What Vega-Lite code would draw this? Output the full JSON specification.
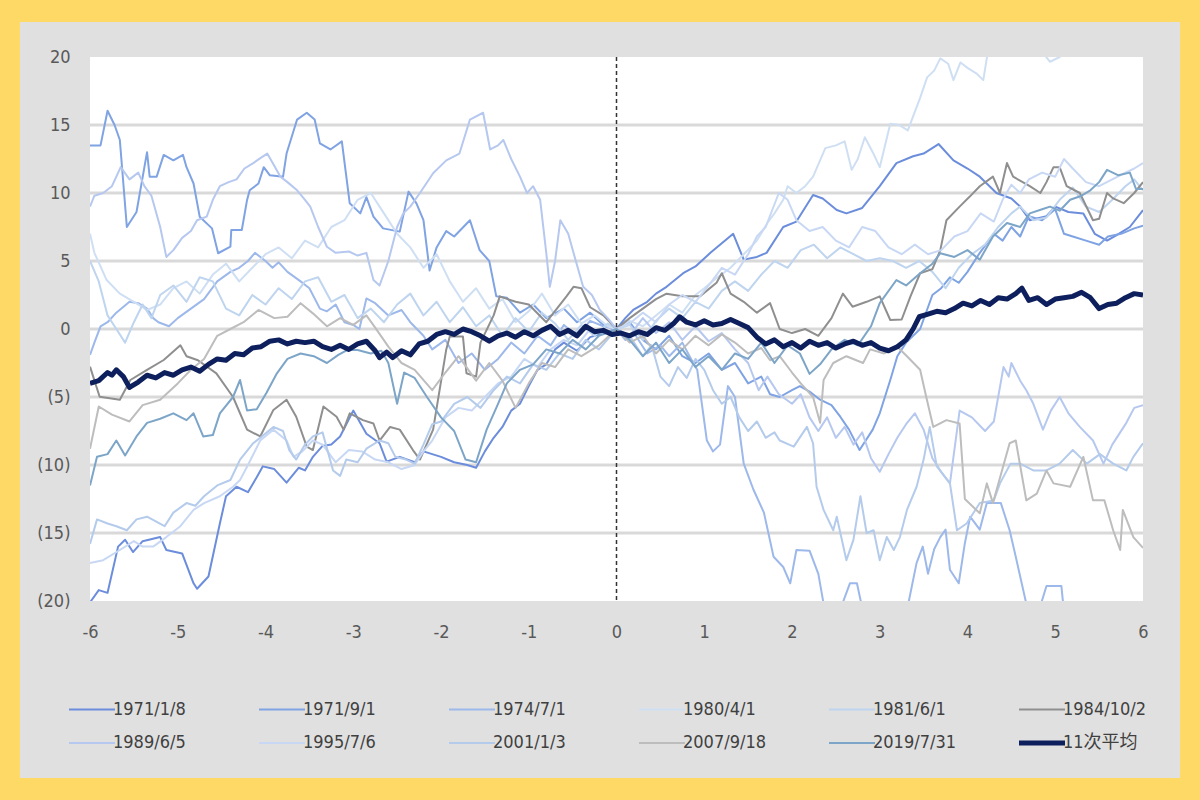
{
"$schema": "https://vega.github.io/schema/vega-lite/v6.json",
"width": 1053, "height": 544,
"autosize": {"type": "none"},
"padding": {"left": 90, "top": 57, "right": 57, "bottom": 199},
"background": "#FFD966",
"config": {"view": {"stroke": null}, "font": "'Liberation Sans Narrow', 'DejaVu Sans Condensed', 'Noto Sans CJK SC', sans-serif"},
"datasets": {
"series": [
{"s":"1971/1/8","x":-6,"y":-20.1},{"s":"1971/1/8","x":-5.9,"y":-19.2},{"s":"1971/1/8","x":-5.8,"y":-19.4},{"s":"1971/1/8","x":-5.68,"y":-16.0},{"s":"1971/1/8","x":-5.6,"y":-15.5},{"s":"1971/1/8","x":-5.51,"y":-16.4},{"s":"1971/1/8","x":-5.4,"y":-15.6},{"s":"1971/1/8","x":-5.2,"y":-15.3},{"s":"1971/1/8","x":-5.13,"y":-16.25},{"s":"1971/1/8","x":-4.95,"y":-16.5},{"s":"1971/1/8","x":-4.82,"y":-18.7},{"s":"1971/1/8","x":-4.78,"y":-19.1},{"s":"1971/1/8","x":-4.65,"y":-18.2},{"s":"1971/1/8","x":-4.52,"y":-14.3},{"s":"1971/1/8","x":-4.45,"y":-12.3},{"s":"1971/1/8","x":-4.33,"y":-11.6},{"s":"1971/1/8","x":-4.2,"y":-12.0},{"s":"1971/1/8","x":-4.1,"y":-10.9},{"s":"1971/1/8","x":-4.03,"y":-10.1},{"s":"1971/1/8","x":-3.9,"y":-10.3},{"s":"1971/1/8","x":-3.76,"y":-11.3},{"s":"1971/1/8","x":-3.62,"y":-10.2},{"s":"1971/1/8","x":-3.55,"y":-10.4},{"s":"1971/1/8","x":-3.46,"y":-9.4},{"s":"1971/1/8","x":-3.35,"y":-8.6},{"s":"1971/1/8","x":-3.25,"y":-8.5},{"s":"1971/1/8","x":-3.15,"y":-7.9},{"s":"1971/1/8","x":-3.0,"y":-6.0},{"s":"1971/1/8","x":-2.85,"y":-7.7},{"s":"1971/1/8","x":-2.7,"y":-8.4},{"s":"1971/1/8","x":-2.62,"y":-9.75},{"s":"1971/1/8","x":-2.47,"y":-9.4},{"s":"1971/1/8","x":-2.3,"y":-9.8},{"s":"1971/1/8","x":-2.2,"y":-9.0},{"s":"1971/1/8","x":-2.0,"y":-9.4},{"s":"1971/1/8","x":-1.85,"y":-9.8},{"s":"1971/1/8","x":-1.7,"y":-10.0},{"s":"1971/1/8","x":-1.6,"y":-10.2},{"s":"1971/1/8","x":-1.5,"y":-9.0},{"s":"1971/1/8","x":-1.4,"y":-8.0},{"s":"1971/1/8","x":-1.3,"y":-7.2},{"s":"1971/1/8","x":-1.2,"y":-6.0},{"s":"1971/1/8","x":-1.1,"y":-5.5},{"s":"1971/1/8","x":-1.0,"y":-4.2},{"s":"1971/1/8","x":-0.9,"y":-3.0},{"s":"1971/1/8","x":-0.8,"y":-2.6},{"s":"1971/1/8","x":-0.7,"y":-1.5},{"s":"1971/1/8","x":-0.6,"y":-1.0},{"s":"1971/1/8","x":-0.45,"y":-1.6},{"s":"1971/1/8","x":-0.3,"y":-0.6},{"s":"1971/1/8","x":-0.15,"y":-0.3},{"s":"1971/1/8","x":0,"y":0},{"s":"1971/1/8","x":0.1,"y":0.8},{"s":"1971/1/8","x":0.19,"y":1.4},{"s":"1971/1/8","x":0.35,"y":2.0},{"s":"1971/1/8","x":0.45,"y":2.6},{"s":"1971/1/8","x":0.57,"y":3.1},{"s":"1971/1/8","x":0.76,"y":4.1},{"s":"1971/1/8","x":0.9,"y":4.6},{"s":"1971/1/8","x":1.07,"y":5.6},{"s":"1971/1/8","x":1.2,"y":6.3},{"s":"1971/1/8","x":1.33,"y":7.0},{"s":"1971/1/8","x":1.45,"y":5.1},{"s":"1971/1/8","x":1.6,"y":5.3},{"s":"1971/1/8","x":1.71,"y":5.6},{"s":"1971/1/8","x":1.9,"y":7.5},{"s":"1971/1/8","x":2.05,"y":7.9},{"s":"1971/1/8","x":2.24,"y":9.85},{"s":"1971/1/8","x":2.35,"y":9.6},{"s":"1971/1/8","x":2.51,"y":8.75},{"s":"1971/1/8","x":2.62,"y":8.5},{"s":"1971/1/8","x":2.8,"y":8.9},{"s":"1971/1/8","x":3.0,"y":10.5},{"s":"1971/1/8","x":3.19,"y":12.2},{"s":"1971/1/8","x":3.38,"y":12.7},{"s":"1971/1/8","x":3.5,"y":12.9},{"s":"1971/1/8","x":3.67,"y":13.6},{"s":"1971/1/8","x":3.84,"y":12.4},{"s":"1971/1/8","x":4.0,"y":11.8},{"s":"1971/1/8","x":4.14,"y":11.2},{"s":"1971/1/8","x":4.33,"y":10.0},{"s":"1971/1/8","x":4.5,"y":9.6},{"s":"1971/1/8","x":4.6,"y":9.0},{"s":"1971/1/8","x":4.71,"y":8.0},{"s":"1971/1/8","x":4.9,"y":8.3},{"s":"1971/1/8","x":5.0,"y":9.0},{"s":"1971/1/8","x":5.15,"y":8.6},{"s":"1971/1/8","x":5.32,"y":8.5},{"s":"1971/1/8","x":5.45,"y":7.0},{"s":"1971/1/8","x":5.59,"y":6.5},{"s":"1971/1/8","x":5.7,"y":6.9},{"s":"1971/1/8","x":5.85,"y":7.5},{"s":"1971/1/8","x":6.0,"y":8.75},
{"s":"1971/9/1","x":-6,"y":13.5},{"s":"1971/9/1","x":-5.88,"y":13.5},{"s":"1971/9/1","x":-5.8,"y":16.05},{"s":"1971/9/1","x":-5.72,"y":15.0},{"s":"1971/9/1","x":-5.66,"y":13.9},{"s":"1971/9/1","x":-5.58,"y":7.5},{"s":"1971/9/1","x":-5.47,"y":8.6},{"s":"1971/9/1","x":-5.35,"y":13.0},{"s":"1971/9/1","x":-5.32,"y":11.2},{"s":"1971/9/1","x":-5.24,"y":11.2},{"s":"1971/9/1","x":-5.16,"y":12.8},{"s":"1971/9/1","x":-5.05,"y":12.4},{"s":"1971/9/1","x":-4.94,"y":12.8},{"s":"1971/9/1","x":-4.9,"y":11.9},{"s":"1971/9/1","x":-4.82,"y":10.7},{"s":"1971/9/1","x":-4.75,"y":8.26},{"s":"1971/9/1","x":-4.61,"y":7.4},{"s":"1971/9/1","x":-4.54,"y":5.57},{"s":"1971/9/1","x":-4.4,"y":6.05},{"s":"1971/9/1","x":-4.39,"y":7.28},{"s":"1971/9/1","x":-4.27,"y":7.28},{"s":"1971/9/1","x":-4.21,"y":9.49},{"s":"1971/9/1","x":-4.18,"y":10.2},{"s":"1971/9/1","x":-4.08,"y":10.7},{"s":"1971/9/1","x":-4.02,"y":11.9},{"s":"1971/9/1","x":-3.95,"y":11.3},{"s":"1971/9/1","x":-3.8,"y":11.2},{"s":"1971/9/1","x":-3.76,"y":12.9},{"s":"1971/9/1","x":-3.64,"y":15.4},{"s":"1971/9/1","x":-3.53,"y":15.9},{"s":"1971/9/1","x":-3.44,"y":15.4},{"s":"1971/9/1","x":-3.38,"y":13.65},{"s":"1971/9/1","x":-3.26,"y":13.2},{"s":"1971/9/1","x":-3.13,"y":13.8},{"s":"1971/9/1","x":-3.04,"y":9.24},{"s":"1971/9/1","x":-2.92,"y":8.5},{"s":"1971/9/1","x":-2.85,"y":9.7},{"s":"1971/9/1","x":-2.77,"y":8.26},{"s":"1971/9/1","x":-2.66,"y":7.4},{"s":"1971/9/1","x":-2.47,"y":7.16},{"s":"1971/9/1","x":-2.37,"y":10.1},{"s":"1971/9/1","x":-2.28,"y":9.24},{"s":"1971/9/1","x":-2.2,"y":8.0},{"s":"1971/9/1","x":-2.13,"y":4.3},{"s":"1971/9/1","x":-2.05,"y":6.0},{"s":"1971/9/1","x":-1.94,"y":7.2},{"s":"1971/9/1","x":-1.85,"y":6.8},{"s":"1971/9/1","x":-1.67,"y":8.0},{"s":"1971/9/1","x":-1.56,"y":5.8},{"s":"1971/9/1","x":-1.45,"y":5.0},{"s":"1971/9/1","x":-1.37,"y":2.4},{"s":"1971/9/1","x":-1.25,"y":2.3},{"s":"1971/9/1","x":-1.1,"y":1.2},{"s":"1971/9/1","x":-0.95,"y":1.8},{"s":"1971/9/1","x":-0.8,"y":0.8},{"s":"1971/9/1","x":-0.6,"y":1.5},{"s":"1971/9/1","x":-0.45,"y":0.5},{"s":"1971/9/1","x":-0.3,"y":1.2},{"s":"1971/9/1","x":-0.15,"y":0.3},{"s":"1971/9/1","x":0,"y":0},{"s":"1971/9/1","x":0.15,"y":0.5},{"s":"1971/9/1","x":0.3,"y":-0.8},{"s":"1971/9/1","x":0.45,"y":-1.5},{"s":"1971/9/1","x":0.6,"y":-0.5},{"s":"1971/9/1","x":0.75,"y":-2.0},{"s":"1971/9/1","x":0.9,"y":-2.5},{"s":"1971/9/1","x":1.05,"y":-1.8},{"s":"1971/9/1","x":1.2,"y":-3.0},{"s":"1971/9/1","x":1.35,"y":-2.5},{"s":"1971/9/1","x":1.5,"y":-4.0},{"s":"1971/9/1","x":1.65,"y":-3.5},{"s":"1971/9/1","x":1.75,"y":-4.8},{"s":"1971/9/1","x":1.86,"y":-5.0},{"s":"1971/9/1","x":2.0,"y":-4.5},{"s":"1971/9/1","x":2.09,"y":-4.2},{"s":"1971/9/1","x":2.2,"y":-4.6},{"s":"1971/9/1","x":2.32,"y":-5.2},{"s":"1971/9/1","x":2.45,"y":-5.6},{"s":"1971/9/1","x":2.55,"y":-6.45},{"s":"1971/9/1","x":2.65,"y":-7.4},{"s":"1971/9/1","x":2.77,"y":-8.9},{"s":"1971/9/1","x":2.92,"y":-7.4},{"s":"1971/9/1","x":3.0,"y":-6.2},{"s":"1971/9/1","x":3.12,"y":-3.75},{"s":"1971/9/1","x":3.2,"y":-2.0},{"s":"1971/9/1","x":3.3,"y":-1.0},{"s":"1971/9/1","x":3.46,"y":0.0},{"s":"1971/9/1","x":3.6,"y":2.5},{"s":"1971/9/1","x":3.7,"y":3.0},{"s":"1971/9/1","x":3.8,"y":3.8},{"s":"1971/9/1","x":3.9,"y":3.4},{"s":"1971/9/1","x":4.0,"y":4.2},{"s":"1971/9/1","x":4.14,"y":5.6},{"s":"1971/9/1","x":4.3,"y":7.0},{"s":"1971/9/1","x":4.4,"y":6.5},{"s":"1971/9/1","x":4.5,"y":7.5},{"s":"1971/9/1","x":4.6,"y":6.8},{"s":"1971/9/1","x":4.7,"y":8.3},{"s":"1971/9/1","x":4.85,"y":8.0},{"s":"1971/9/1","x":5.0,"y":8.8},{"s":"1971/9/1","x":5.1,"y":7.0},{"s":"1971/9/1","x":5.2,"y":6.8},{"s":"1971/9/1","x":5.35,"y":6.5},{"s":"1971/9/1","x":5.5,"y":6.2},{"s":"1971/9/1","x":5.6,"y":6.8},{"s":"1971/9/1","x":5.75,"y":7.0},{"s":"1971/9/1","x":5.9,"y":7.4},{"s":"1971/9/1","x":6.0,"y":7.6},
{"s":"1974/7/1","x":-6,"y":-1.9},{"s":"1974/7/1","x":-5.95,"y":-1.0},{"s":"1974/7/1","x":-5.88,"y":0.2},{"s":"1974/7/1","x":-5.8,"y":0.5},{"s":"1974/7/1","x":-5.7,"y":1.2},{"s":"1974/7/1","x":-5.55,"y":2.0},{"s":"1974/7/1","x":-5.45,"y":1.9},{"s":"1974/7/1","x":-5.35,"y":1.5},{"s":"1974/7/1","x":-5.28,"y":0.8},{"s":"1974/7/1","x":-5.22,"y":0.5},{"s":"1974/7/1","x":-5.1,"y":0.2},{"s":"1974/7/1","x":-5.0,"y":0.8},{"s":"1974/7/1","x":-4.85,"y":1.5},{"s":"1974/7/1","x":-4.7,"y":2.2},{"s":"1974/7/1","x":-4.55,"y":3.5},{"s":"1974/7/1","x":-4.4,"y":4.2},{"s":"1974/7/1","x":-4.3,"y":4.5},{"s":"1974/7/1","x":-4.2,"y":5.0},{"s":"1974/7/1","x":-4.12,"y":5.6},{"s":"1974/7/1","x":-4.0,"y":5.0},{"s":"1974/7/1","x":-3.92,"y":4.5},{"s":"1974/7/1","x":-3.85,"y":4.9},{"s":"1974/7/1","x":-3.75,"y":4.2},{"s":"1974/7/1","x":-3.6,"y":3.5},{"s":"1974/7/1","x":-3.5,"y":3.0},{"s":"1974/7/1","x":-3.38,"y":1.5},{"s":"1974/7/1","x":-3.3,"y":1.3},{"s":"1974/7/1","x":-3.2,"y":1.8},{"s":"1974/7/1","x":-3.1,"y":0.5},{"s":"1974/7/1","x":-3.0,"y":0.3},{"s":"1974/7/1","x":-2.93,"y":0.0},{"s":"1974/7/1","x":-2.85,"y":2.25},{"s":"1974/7/1","x":-2.75,"y":1.9},{"s":"1974/7/1","x":-2.6,"y":1.0},{"s":"1974/7/1","x":-2.45,"y":1.4},{"s":"1974/7/1","x":-2.35,"y":0.5},{"s":"1974/7/1","x":-2.2,"y":-0.5},{"s":"1974/7/1","x":-2.1,"y":-1.5},{"s":"1974/7/1","x":-1.95,"y":-0.8},{"s":"1974/7/1","x":-1.8,"y":-2.5},{"s":"1974/7/1","x":-1.65,"y":-1.8},{"s":"1974/7/1","x":-1.5,"y":-3.0},{"s":"1974/7/1","x":-1.35,"y":-2.2},{"s":"1974/7/1","x":-1.2,"y":-1.0},{"s":"1974/7/1","x":-1.05,"y":-1.8},{"s":"1974/7/1","x":-0.9,"y":-0.5},{"s":"1974/7/1","x":-0.75,"y":-1.2},{"s":"1974/7/1","x":-0.6,"y":0.3},{"s":"1974/7/1","x":-0.45,"y":-0.5},{"s":"1974/7/1","x":-0.3,"y":0.6},{"s":"1974/7/1","x":-0.15,"y":0.2},{"s":"1974/7/1","x":0,"y":0},{"s":"1974/7/1","x":0.1,"y":-0.8},{"s":"1974/7/1","x":0.2,"y":-0.3},{"s":"1974/7/1","x":0.35,"y":-1.8},{"s":"1974/7/1","x":0.5,"y":-1.2},{"s":"1974/7/1","x":0.6,"y":-2.0},{"s":"1974/7/1","x":0.75,"y":-1.0},{"s":"1974/7/1","x":0.85,"y":-2.2},{"s":"1974/7/1","x":0.92,"y":-3.0},{"s":"1974/7/1","x":1.03,"y":-8.2},{"s":"1974/7/1","x":1.1,"y":-9.0},{"s":"1974/7/1","x":1.18,"y":-8.5},{"s":"1974/7/1","x":1.27,"y":-4.2},{"s":"1974/7/1","x":1.35,"y":-5.0},{"s":"1974/7/1","x":1.45,"y":-9.9},{"s":"1974/7/1","x":1.56,"y":-11.8},{"s":"1974/7/1","x":1.68,"y":-13.5},{"s":"1974/7/1","x":1.79,"y":-16.75},{"s":"1974/7/1","x":1.9,"y":-17.5},{"s":"1974/7/1","x":1.98,"y":-18.7},{"s":"1974/7/1","x":2.05,"y":-16.25},{"s":"1974/7/1","x":2.2,"y":-16.3},{"s":"1974/7/1","x":2.3,"y":-18.0},{"s":"1974/7/1","x":2.36,"y":-20.2},{"s":"1974/7/1","x":2.5,"y":-21.5},{"s":"1974/7/1","x":2.66,"y":-18.7},{"s":"1974/7/1","x":2.74,"y":-18.7},{"s":"1974/7/1","x":2.8,"y":-20.5},{"s":"1974/7/1","x":3.0,"y":-22.0},{"s":"1974/7/1","x":3.3,"y":-21.0},{"s":"1974/7/1","x":3.42,"y":-17.2},{"s":"1974/7/1","x":3.49,"y":-16.0},{"s":"1974/7/1","x":3.55,"y":-18.0},{"s":"1974/7/1","x":3.62,"y":-16.2},{"s":"1974/7/1","x":3.69,"y":-15.3},{"s":"1974/7/1","x":3.75,"y":-14.75},{"s":"1974/7/1","x":3.8,"y":-17.7},{"s":"1974/7/1","x":3.9,"y":-18.7},{"s":"1974/7/1","x":3.97,"y":-15.75},{"s":"1974/7/1","x":4.03,"y":-13.8},{"s":"1974/7/1","x":4.14,"y":-14.75},{"s":"1974/7/1","x":4.22,"y":-12.8},{"s":"1974/7/1","x":4.38,"y":-12.8},{"s":"1974/7/1","x":4.48,"y":-14.8},{"s":"1974/7/1","x":4.55,"y":-16.75},{"s":"1974/7/1","x":4.67,"y":-20.2},{"s":"1974/7/1","x":4.8,"y":-21.0},{"s":"1974/7/1","x":4.9,"y":-18.9},{"s":"1974/7/1","x":5.07,"y":-18.9},{"s":"1974/7/1","x":5.09,"y":-20.2},{"s":"1974/7/1","x":5.3,"y":-22.0},{"s":"1974/7/1","x":5.6,"y":-23.0},{"s":"1974/7/1","x":6.0,"y":-22.5},
{"s":"1980/4/1","x":-6,"y":7.0},{"s":"1980/4/1","x":-5.95,"y":5.6},{"s":"1980/4/1","x":-5.81,"y":3.6},{"s":"1980/4/1","x":-5.66,"y":2.6},{"s":"1980/4/1","x":-5.5,"y":2.0},{"s":"1980/4/1","x":-5.35,"y":1.4},{"s":"1980/4/1","x":-5.2,"y":1.8},{"s":"1980/4/1","x":-5.05,"y":3.0},{"s":"1980/4/1","x":-4.9,"y":3.5},{"s":"1980/4/1","x":-4.75,"y":2.6},{"s":"1980/4/1","x":-4.6,"y":4.0},{"s":"1980/4/1","x":-4.45,"y":4.8},{"s":"1980/4/1","x":-4.3,"y":3.5},{"s":"1980/4/1","x":-4.15,"y":4.5},{"s":"1980/4/1","x":-4.0,"y":5.5},{"s":"1980/4/1","x":-3.85,"y":6.0},{"s":"1980/4/1","x":-3.7,"y":5.2},{"s":"1980/4/1","x":-3.55,"y":6.5},{"s":"1980/4/1","x":-3.4,"y":6.0},{"s":"1980/4/1","x":-3.25,"y":7.5},{"s":"1980/4/1","x":-3.1,"y":8.0},{"s":"1980/4/1","x":-2.95,"y":9.5},{"s":"1980/4/1","x":-2.8,"y":10.0},{"s":"1980/4/1","x":-2.65,"y":8.5},{"s":"1980/4/1","x":-2.5,"y":7.0},{"s":"1980/4/1","x":-2.35,"y":6.0},{"s":"1980/4/1","x":-2.2,"y":4.5},{"s":"1980/4/1","x":-2.05,"y":5.5},{"s":"1980/4/1","x":-1.9,"y":3.5},{"s":"1980/4/1","x":-1.75,"y":2.0},{"s":"1980/4/1","x":-1.6,"y":3.0},{"s":"1980/4/1","x":-1.45,"y":1.5},{"s":"1980/4/1","x":-1.3,"y":2.2},{"s":"1980/4/1","x":-1.15,"y":0.5},{"s":"1980/4/1","x":-1.0,"y":1.3},{"s":"1980/4/1","x":-0.85,"y":2.6},{"s":"1980/4/1","x":-0.7,"y":1.0},{"s":"1980/4/1","x":-0.55,"y":1.8},{"s":"1980/4/1","x":-0.4,"y":0.4},{"s":"1980/4/1","x":-0.25,"y":1.0},{"s":"1980/4/1","x":-0.1,"y":0.2},{"s":"1980/4/1","x":0,"y":0},{"s":"1980/4/1","x":0.15,"y":0.6},{"s":"1980/4/1","x":0.3,"y":0.2},{"s":"1980/4/1","x":0.45,"y":1.0},{"s":"1980/4/1","x":0.6,"y":1.8},{"s":"1980/4/1","x":0.75,"y":1.2},{"s":"1980/4/1","x":0.9,"y":2.5},{"s":"1980/4/1","x":1.0,"y":3.0},{"s":"1980/4/1","x":1.15,"y":3.8},{"s":"1980/4/1","x":1.3,"y":4.5},{"s":"1980/4/1","x":1.45,"y":5.5},{"s":"1980/4/1","x":1.6,"y":6.5},{"s":"1980/4/1","x":1.72,"y":7.8},{"s":"1980/4/1","x":1.8,"y":8.5},{"s":"1980/4/1","x":1.9,"y":9.5},{"s":"1980/4/1","x":1.95,"y":10.5},{"s":"1980/4/1","x":2.05,"y":10.0},{"s":"1980/4/1","x":2.15,"y":10.5},{"s":"1980/4/1","x":2.24,"y":11.2},{"s":"1980/4/1","x":2.38,"y":13.3},{"s":"1980/4/1","x":2.5,"y":13.5},{"s":"1980/4/1","x":2.6,"y":13.8},{"s":"1980/4/1","x":2.68,"y":11.7},{"s":"1980/4/1","x":2.75,"y":12.5},{"s":"1980/4/1","x":2.83,"y":14.1},{"s":"1980/4/1","x":2.92,"y":13.0},{"s":"1980/4/1","x":3.0,"y":11.9},{"s":"1980/4/1","x":3.12,"y":15.1},{"s":"1980/4/1","x":3.22,"y":15.0},{"s":"1980/4/1","x":3.32,"y":14.6},{"s":"1980/4/1","x":3.46,"y":17.0},{"s":"1980/4/1","x":3.54,"y":18.5},{"s":"1980/4/1","x":3.62,"y":19.0},{"s":"1980/4/1","x":3.69,"y":19.9},{"s":"1980/4/1","x":3.78,"y":19.5},{"s":"1980/4/1","x":3.84,"y":18.3},{"s":"1980/4/1","x":3.92,"y":19.6},{"s":"1980/4/1","x":4.0,"y":19.2},{"s":"1980/4/1","x":4.1,"y":18.8},{"s":"1980/4/1","x":4.18,"y":18.3},{"s":"1980/4/1","x":4.23,"y":20.3},{"s":"1980/4/1","x":4.35,"y":21.5},{"s":"1980/4/1","x":4.5,"y":22.0},{"s":"1980/4/1","x":4.65,"y":21.2},{"s":"1980/4/1","x":4.8,"y":20.8},{"s":"1980/4/1","x":4.94,"y":19.65},{"s":"1980/4/1","x":5.05,"y":20.0},{"s":"1980/4/1","x":5.15,"y":20.8},{"s":"1980/4/1","x":5.3,"y":21.5},{"s":"1980/4/1","x":5.5,"y":22.5},{"s":"1980/4/1","x":5.7,"y":22.0},{"s":"1980/4/1","x":6.0,"y":23.0},
{"s":"1981/6/1","x":-6,"y":5.0},{"s":"1981/6/1","x":-5.9,"y":3.5},{"s":"1981/6/1","x":-5.8,"y":1.0},{"s":"1981/6/1","x":-5.7,"y":0.0},{"s":"1981/6/1","x":-5.6,"y":-1.0},{"s":"1981/6/1","x":-5.5,"y":0.5},{"s":"1981/6/1","x":-5.4,"y":1.8},{"s":"1981/6/1","x":-5.3,"y":0.8},{"s":"1981/6/1","x":-5.2,"y":2.5},{"s":"1981/6/1","x":-5.05,"y":3.2},{"s":"1981/6/1","x":-4.9,"y":2.0},{"s":"1981/6/1","x":-4.75,"y":3.8},{"s":"1981/6/1","x":-4.6,"y":3.5},{"s":"1981/6/1","x":-4.45,"y":1.5},{"s":"1981/6/1","x":-4.3,"y":1.0},{"s":"1981/6/1","x":-4.15,"y":2.5},{"s":"1981/6/1","x":-4.0,"y":1.8},{"s":"1981/6/1","x":-3.85,"y":3.0},{"s":"1981/6/1","x":-3.7,"y":2.2},{"s":"1981/6/1","x":-3.55,"y":3.5},{"s":"1981/6/1","x":-3.4,"y":3.8},{"s":"1981/6/1","x":-3.25,"y":2.0},{"s":"1981/6/1","x":-3.1,"y":2.5},{"s":"1981/6/1","x":-2.95,"y":0.8},{"s":"1981/6/1","x":-2.8,"y":1.5},{"s":"1981/6/1","x":-2.65,"y":0.5},{"s":"1981/6/1","x":-2.5,"y":1.8},{"s":"1981/6/1","x":-2.35,"y":2.6},{"s":"1981/6/1","x":-2.2,"y":1.0},{"s":"1981/6/1","x":-2.05,"y":2.0},{"s":"1981/6/1","x":-1.9,"y":0.5},{"s":"1981/6/1","x":-1.75,"y":1.6},{"s":"1981/6/1","x":-1.6,"y":0.2},{"s":"1981/6/1","x":-1.45,"y":1.0},{"s":"1981/6/1","x":-1.3,"y":-0.5},{"s":"1981/6/1","x":-1.15,"y":0.8},{"s":"1981/6/1","x":-1.0,"y":-0.2},{"s":"1981/6/1","x":-0.85,"y":1.2},{"s":"1981/6/1","x":-0.7,"y":0.4},{"s":"1981/6/1","x":-0.55,"y":-0.8},{"s":"1981/6/1","x":-0.4,"y":0.3},{"s":"1981/6/1","x":-0.25,"y":-0.5},{"s":"1981/6/1","x":-0.1,"y":0.4},{"s":"1981/6/1","x":0,"y":0},{"s":"1981/6/1","x":0.15,"y":0.3},{"s":"1981/6/1","x":0.3,"y":-0.8},{"s":"1981/6/1","x":0.45,"y":0.6},{"s":"1981/6/1","x":0.6,"y":1.5},{"s":"1981/6/1","x":0.75,"y":0.8},{"s":"1981/6/1","x":0.9,"y":2.0},{"s":"1981/6/1","x":1.05,"y":1.5},{"s":"1981/6/1","x":1.2,"y":2.8},{"s":"1981/6/1","x":1.35,"y":3.5},{"s":"1981/6/1","x":1.5,"y":2.8},{"s":"1981/6/1","x":1.65,"y":4.0},{"s":"1981/6/1","x":1.8,"y":5.0},{"s":"1981/6/1","x":1.95,"y":4.5},{"s":"1981/6/1","x":2.1,"y":5.8},{"s":"1981/6/1","x":2.25,"y":6.2},{"s":"1981/6/1","x":2.4,"y":5.2},{"s":"1981/6/1","x":2.55,"y":6.0},{"s":"1981/6/1","x":2.7,"y":5.5},{"s":"1981/6/1","x":2.85,"y":5.0},{"s":"1981/6/1","x":3.0,"y":5.2},{"s":"1981/6/1","x":3.15,"y":5.0},{"s":"1981/6/1","x":3.3,"y":4.5},{"s":"1981/6/1","x":3.45,"y":5.0},{"s":"1981/6/1","x":3.6,"y":4.2},{"s":"1981/6/1","x":3.75,"y":3.0},{"s":"1981/6/1","x":3.9,"y":4.5},{"s":"1981/6/1","x":4.05,"y":5.5},{"s":"1981/6/1","x":4.2,"y":6.2},{"s":"1981/6/1","x":4.35,"y":7.5},{"s":"1981/6/1","x":4.5,"y":8.5},{"s":"1981/6/1","x":4.6,"y":9.0},{"s":"1981/6/1","x":4.75,"y":8.0},{"s":"1981/6/1","x":4.9,"y":8.2},{"s":"1981/6/1","x":5.05,"y":9.5},{"s":"1981/6/1","x":5.2,"y":10.4},{"s":"1981/6/1","x":5.35,"y":9.0},{"s":"1981/6/1","x":5.5,"y":8.6},{"s":"1981/6/1","x":5.65,"y":9.5},{"s":"1981/6/1","x":5.8,"y":10.5},{"s":"1981/6/1","x":5.9,"y":11.0},{"s":"1981/6/1","x":6.0,"y":10.2},
{"s":"1984/10/2","x":-6,"y":-2.77},{"s":"1984/10/2","x":-5.89,"y":-4.98},{"s":"1984/10/2","x":-5.66,"y":-5.2},{"s":"1984/10/2","x":-5.54,"y":-3.75},{"s":"1984/10/2","x":-5.35,"y":-3.0},{"s":"1984/10/2","x":-5.16,"y":-2.28},{"s":"1984/10/2","x":-4.97,"y":-1.2},{"s":"1984/10/2","x":-4.9,"y":-2.0},{"s":"1984/10/2","x":-4.77,"y":-2.3},{"s":"1984/10/2","x":-4.56,"y":-3.26},{"s":"1984/10/2","x":-4.37,"y":-5.0},{"s":"1984/10/2","x":-4.21,"y":-7.4},{"s":"1984/10/2","x":-4.06,"y":-7.9},{"s":"1984/10/2","x":-3.91,"y":-5.95},{"s":"1984/10/2","x":-3.76,"y":-5.2},{"s":"1984/10/2","x":-3.65,"y":-6.45},{"s":"1984/10/2","x":-3.53,"y":-8.65},{"s":"1984/10/2","x":-3.46,"y":-8.9},{"s":"1984/10/2","x":-3.34,"y":-5.7},{"s":"1984/10/2","x":-3.19,"y":-6.45},{"s":"1984/10/2","x":-3.11,"y":-7.4},{"s":"1984/10/2","x":-3.04,"y":-6.2},{"s":"1984/10/2","x":-2.89,"y":-6.7},{"s":"1984/10/2","x":-2.77,"y":-6.95},{"s":"1984/10/2","x":-2.7,"y":-8.2},{"s":"1984/10/2","x":-2.58,"y":-7.2},{"s":"1984/10/2","x":-2.47,"y":-7.4},{"s":"1984/10/2","x":-2.32,"y":-8.9},{"s":"1984/10/2","x":-2.24,"y":-9.6},{"s":"1984/10/2","x":-2.09,"y":-7.4},{"s":"1984/10/2","x":-1.94,"y":-1.5},{"s":"1984/10/2","x":-1.9,"y":-0.55},{"s":"1984/10/2","x":-1.75,"y":-0.55},{"s":"1984/10/2","x":-1.71,"y":-3.25},{"s":"1984/10/2","x":-1.6,"y":-3.5},{"s":"1984/10/2","x":-1.55,"y":-1.0},{"s":"1984/10/2","x":-1.4,"y":1.0},{"s":"1984/10/2","x":-1.33,"y":2.4},{"s":"1984/10/2","x":-1.15,"y":2.0},{"s":"1984/10/2","x":-1.0,"y":1.8},{"s":"1984/10/2","x":-0.8,"y":0.5},{"s":"1984/10/2","x":-0.57,"y":2.4},{"s":"1984/10/2","x":-0.49,"y":3.1},{"s":"1984/10/2","x":-0.4,"y":3.0},{"s":"1984/10/2","x":-0.3,"y":1.6},{"s":"1984/10/2","x":-0.15,"y":1.0},{"s":"1984/10/2","x":0,"y":0},{"s":"1984/10/2","x":0.15,"y":0.8},{"s":"1984/10/2","x":0.3,"y":1.5},{"s":"1984/10/2","x":0.45,"y":2.2},{"s":"1984/10/2","x":0.57,"y":2.6},{"s":"1984/10/2","x":0.75,"y":2.4},{"s":"1984/10/2","x":0.95,"y":2.4},{"s":"1984/10/2","x":1.14,"y":3.4},{"s":"1984/10/2","x":1.2,"y":4.1},{"s":"1984/10/2","x":1.3,"y":2.6},{"s":"1984/10/2","x":1.45,"y":2.0},{"s":"1984/10/2","x":1.6,"y":1.2},{"s":"1984/10/2","x":1.75,"y":1.9},{"s":"1984/10/2","x":1.86,"y":0.0},{"s":"1984/10/2","x":2.0,"y":-0.3},{"s":"1984/10/2","x":2.15,"y":0.0},{"s":"1984/10/2","x":2.3,"y":-0.5},{"s":"1984/10/2","x":2.45,"y":0.8},{"s":"1984/10/2","x":2.58,"y":2.6},{"s":"1984/10/2","x":2.69,"y":1.64},{"s":"1984/10/2","x":2.85,"y":2.0},{"s":"1984/10/2","x":3.0,"y":2.4},{"s":"1984/10/2","x":3.12,"y":0.66},{"s":"1984/10/2","x":3.25,"y":0.7},{"s":"1984/10/2","x":3.35,"y":2.4},{"s":"1984/10/2","x":3.46,"y":4.1},{"s":"1984/10/2","x":3.6,"y":4.4},{"s":"1984/10/2","x":3.69,"y":5.8},{"s":"1984/10/2","x":3.76,"y":8.0},{"s":"1984/10/2","x":3.91,"y":9.0},{"s":"1984/10/2","x":4.02,"y":9.7},{"s":"1984/10/2","x":4.14,"y":10.5},{"s":"1984/10/2","x":4.29,"y":11.2},{"s":"1984/10/2","x":4.37,"y":10.0},{"s":"1984/10/2","x":4.45,"y":12.2},{"s":"1984/10/2","x":4.52,"y":11.2},{"s":"1984/10/2","x":4.71,"y":10.5},{"s":"1984/10/2","x":4.83,"y":10.0},{"s":"1984/10/2","x":4.9,"y":10.8},{"s":"1984/10/2","x":4.98,"y":11.9},{"s":"1984/10/2","x":5.05,"y":11.9},{"s":"1984/10/2","x":5.13,"y":10.5},{"s":"1984/10/2","x":5.28,"y":10.0},{"s":"1984/10/2","x":5.43,"y":8.0},{"s":"1984/10/2","x":5.5,"y":8.1},{"s":"1984/10/2","x":5.59,"y":10.0},{"s":"1984/10/2","x":5.66,"y":9.6},{"s":"1984/10/2","x":5.78,"y":9.25},{"s":"1984/10/2","x":5.9,"y":10.0},{"s":"1984/10/2","x":6.0,"y":10.8},
{"s":"1989/6/5","x":-6,"y":9.0},{"s":"1989/6/5","x":-5.95,"y":9.8},{"s":"1989/6/5","x":-5.85,"y":10.0},{"s":"1989/6/5","x":-5.75,"y":10.5},{"s":"1989/6/5","x":-5.65,"y":11.9},{"s":"1989/6/5","x":-5.55,"y":11.0},{"s":"1989/6/5","x":-5.45,"y":11.5},{"s":"1989/6/5","x":-5.38,"y":10.5},{"s":"1989/6/5","x":-5.3,"y":9.8},{"s":"1989/6/5","x":-5.2,"y":7.5},{"s":"1989/6/5","x":-5.13,"y":5.3},{"s":"1989/6/5","x":-5.05,"y":5.8},{"s":"1989/6/5","x":-4.95,"y":6.7},{"s":"1989/6/5","x":-4.85,"y":7.2},{"s":"1989/6/5","x":-4.78,"y":8.0},{"s":"1989/6/5","x":-4.67,"y":8.26},{"s":"1989/6/5","x":-4.6,"y":9.5},{"s":"1989/6/5","x":-4.52,"y":10.5},{"s":"1989/6/5","x":-4.42,"y":10.8},{"s":"1989/6/5","x":-4.33,"y":11.0},{"s":"1989/6/5","x":-4.24,"y":11.8},{"s":"1989/6/5","x":-4.14,"y":12.2},{"s":"1989/6/5","x":-4.05,"y":12.6},{"s":"1989/6/5","x":-3.98,"y":12.9},{"s":"1989/6/5","x":-3.9,"y":12.0},{"s":"1989/6/5","x":-3.83,"y":11.2},{"s":"1989/6/5","x":-3.75,"y":10.8},{"s":"1989/6/5","x":-3.64,"y":10.2},{"s":"1989/6/5","x":-3.55,"y":9.5},{"s":"1989/6/5","x":-3.49,"y":9.0},{"s":"1989/6/5","x":-3.4,"y":7.5},{"s":"1989/6/5","x":-3.3,"y":6.05},{"s":"1989/6/5","x":-3.2,"y":5.6},{"s":"1989/6/5","x":-3.05,"y":5.7},{"s":"1989/6/5","x":-2.95,"y":5.4},{"s":"1989/6/5","x":-2.85,"y":5.6},{"s":"1989/6/5","x":-2.77,"y":3.6},{"s":"1989/6/5","x":-2.7,"y":3.2},{"s":"1989/6/5","x":-2.6,"y":5.0},{"s":"1989/6/5","x":-2.5,"y":7.5},{"s":"1989/6/5","x":-2.43,"y":8.5},{"s":"1989/6/5","x":-2.35,"y":9.0},{"s":"1989/6/5","x":-2.24,"y":10.0},{"s":"1989/6/5","x":-2.09,"y":11.45},{"s":"1989/6/5","x":-1.94,"y":12.4},{"s":"1989/6/5","x":-1.79,"y":12.9},{"s":"1989/6/5","x":-1.67,"y":15.4},{"s":"1989/6/5","x":-1.52,"y":15.9},{"s":"1989/6/5","x":-1.44,"y":13.2},{"s":"1989/6/5","x":-1.35,"y":13.5},{"s":"1989/6/5","x":-1.29,"y":13.9},{"s":"1989/6/5","x":-1.2,"y":12.5},{"s":"1989/6/5","x":-1.1,"y":11.2},{"s":"1989/6/5","x":-1.02,"y":10.0},{"s":"1989/6/5","x":-0.95,"y":10.5},{"s":"1989/6/5","x":-0.87,"y":9.5},{"s":"1989/6/5","x":-0.8,"y":5.57},{"s":"1989/6/5","x":-0.76,"y":3.1},{"s":"1989/6/5","x":-0.7,"y":5.0},{"s":"1989/6/5","x":-0.64,"y":8.0},{"s":"1989/6/5","x":-0.55,"y":7.0},{"s":"1989/6/5","x":-0.49,"y":5.6},{"s":"1989/6/5","x":-0.38,"y":3.1},{"s":"1989/6/5","x":-0.28,"y":2.5},{"s":"1989/6/5","x":-0.19,"y":1.4},{"s":"1989/6/5","x":-0.1,"y":0.8},{"s":"1989/6/5","x":0,"y":0},{"s":"1989/6/5","x":0.15,"y":-0.5},{"s":"1989/6/5","x":0.3,"y":0.8},{"s":"1989/6/5","x":0.45,"y":-0.3},{"s":"1989/6/5","x":0.6,"y":0.5},{"s":"1989/6/5","x":0.75,"y":-0.8},{"s":"1989/6/5","x":0.9,"y":0.2},{"s":"1989/6/5","x":1.05,"y":-0.9},{"s":"1989/6/5","x":1.2,"y":-0.3},{"s":"1989/6/5","x":1.35,"y":-1.5},{"s":"1989/6/5","x":1.5,"y":-2.5},{"s":"1989/6/5","x":1.62,"y":-4.5},{"s":"1989/6/5","x":1.72,"y":-3.5},{"s":"1989/6/5","x":1.85,"y":-4.8},{"s":"1989/6/5","x":2.0,"y":-5.5},{"s":"1989/6/5","x":2.1,"y":-4.8},{"s":"1989/6/5","x":2.2,"y":-6.5},{"s":"1989/6/5","x":2.3,"y":-7.5},{"s":"1989/6/5","x":2.4,"y":-6.5},{"s":"1989/6/5","x":2.5,"y":-8.0},{"s":"1989/6/5","x":2.6,"y":-7.2},{"s":"1989/6/5","x":2.7,"y":-8.5},{"s":"1989/6/5","x":2.8,"y":-7.6},{"s":"1989/6/5","x":2.9,"y":-9.5},{"s":"1989/6/5","x":3.0,"y":-10.5},{"s":"1989/6/5","x":3.1,"y":-9.2},{"s":"1989/6/5","x":3.2,"y":-8.0},{"s":"1989/6/5","x":3.3,"y":-7.0},{"s":"1989/6/5","x":3.4,"y":-6.2},{"s":"1989/6/5","x":3.5,"y":-7.4},{"s":"1989/6/5","x":3.6,"y":-9.5},{"s":"1989/6/5","x":3.7,"y":-10.5},{"s":"1989/6/5","x":3.8,"y":-11.35},{"s":"1989/6/5","x":3.91,"y":-6.0},{"s":"1989/6/5","x":4.05,"y":-6.5},{"s":"1989/6/5","x":4.2,"y":-7.5},{"s":"1989/6/5","x":4.3,"y":-6.8},{"s":"1989/6/5","x":4.41,"y":-2.8},{"s":"1989/6/5","x":4.47,"y":-3.5},{"s":"1989/6/5","x":4.5,"y":-2.5},{"s":"1989/6/5","x":4.6,"y":-3.8},{"s":"1989/6/5","x":4.67,"y":-4.5},{"s":"1989/6/5","x":4.75,"y":-5.5},{"s":"1989/6/5","x":4.86,"y":-7.4},{"s":"1989/6/5","x":4.95,"y":-6.0},{"s":"1989/6/5","x":5.05,"y":-5.0},{"s":"1989/6/5","x":5.15,"y":-6.2},{"s":"1989/6/5","x":5.28,"y":-7.2},{"s":"1989/6/5","x":5.43,"y":-8.2},{"s":"1989/6/5","x":5.55,"y":-9.9},{"s":"1989/6/5","x":5.65,"y":-8.5},{"s":"1989/6/5","x":5.81,"y":-6.9},{"s":"1989/6/5","x":5.9,"y":-5.8},{"s":"1989/6/5","x":6.0,"y":-5.6},
{"s":"1995/7/6","x":-6,"y":-17.2},{"s":"1995/7/6","x":-5.85,"y":-17.0},{"s":"1995/7/6","x":-5.66,"y":-16.25},{"s":"1995/7/6","x":-5.5,"y":-15.6},{"s":"1995/7/6","x":-5.4,"y":-16.0},{"s":"1995/7/6","x":-5.28,"y":-16.0},{"s":"1995/7/6","x":-5.13,"y":-15.3},{"s":"1995/7/6","x":-4.97,"y":-14.5},{"s":"1995/7/6","x":-4.82,"y":-13.3},{"s":"1995/7/6","x":-4.7,"y":-12.8},{"s":"1995/7/6","x":-4.52,"y":-12.3},{"s":"1995/7/6","x":-4.37,"y":-11.6},{"s":"1995/7/6","x":-4.29,"y":-11.1},{"s":"1995/7/6","x":-4.2,"y":-10.0},{"s":"1995/7/6","x":-4.06,"y":-8.2},{"s":"1995/7/6","x":-3.91,"y":-7.4},{"s":"1995/7/6","x":-3.76,"y":-8.2},{"s":"1995/7/6","x":-3.68,"y":-9.4},{"s":"1995/7/6","x":-3.58,"y":-9.0},{"s":"1995/7/6","x":-3.46,"y":-8.2},{"s":"1995/7/6","x":-3.35,"y":-8.5},{"s":"1995/7/6","x":-3.2,"y":-9.8},{"s":"1995/7/6","x":-3.05,"y":-8.9},{"s":"1995/7/6","x":-2.9,"y":-9.0},{"s":"1995/7/6","x":-2.75,"y":-9.6},{"s":"1995/7/6","x":-2.6,"y":-9.8},{"s":"1995/7/6","x":-2.45,"y":-10.3},{"s":"1995/7/6","x":-2.3,"y":-10.0},{"s":"1995/7/6","x":-2.2,"y":-9.0},{"s":"1995/7/6","x":-2.1,"y":-8.2},{"s":"1995/7/6","x":-1.95,"y":-6.5},{"s":"1995/7/6","x":-1.8,"y":-5.8},{"s":"1995/7/6","x":-1.65,"y":-6.0},{"s":"1995/7/6","x":-1.5,"y":-5.0},{"s":"1995/7/6","x":-1.35,"y":-4.0},{"s":"1995/7/6","x":-1.2,"y":-3.5},{"s":"1995/7/6","x":-1.05,"y":-2.2},{"s":"1995/7/6","x":-0.9,"y":-2.8},{"s":"1995/7/6","x":-0.75,"y":-1.5},{"s":"1995/7/6","x":-0.6,"y":-0.8},{"s":"1995/7/6","x":-0.45,"y":-1.2},{"s":"1995/7/6","x":-0.3,"y":0.0},{"s":"1995/7/6","x":-0.15,"y":-0.4},{"s":"1995/7/6","x":0,"y":0},{"s":"1995/7/6","x":0.15,"y":0.4},{"s":"1995/7/6","x":0.3,"y":1.2},{"s":"1995/7/6","x":0.45,"y":0.5},{"s":"1995/7/6","x":0.6,"y":1.8},{"s":"1995/7/6","x":0.75,"y":2.5},{"s":"1995/7/6","x":0.9,"y":2.0},{"s":"1995/7/6","x":1.05,"y":3.2},{"s":"1995/7/6","x":1.2,"y":4.5},{"s":"1995/7/6","x":1.35,"y":4.0},{"s":"1995/7/6","x":1.5,"y":5.5},{"s":"1995/7/6","x":1.6,"y":6.8},{"s":"1995/7/6","x":1.7,"y":7.5},{"s":"1995/7/6","x":1.85,"y":10.0},{"s":"1995/7/6","x":1.95,"y":9.5},{"s":"1995/7/6","x":2.05,"y":8.0},{"s":"1995/7/6","x":2.2,"y":7.2},{"s":"1995/7/6","x":2.35,"y":7.5},{"s":"1995/7/6","x":2.5,"y":6.5},{"s":"1995/7/6","x":2.65,"y":6.0},{"s":"1995/7/6","x":2.8,"y":7.5},{"s":"1995/7/6","x":2.95,"y":7.2},{"s":"1995/7/6","x":3.1,"y":6.0},{"s":"1995/7/6","x":3.25,"y":5.5},{"s":"1995/7/6","x":3.4,"y":6.2},{"s":"1995/7/6","x":3.55,"y":5.5},{"s":"1995/7/6","x":3.7,"y":5.8},{"s":"1995/7/6","x":3.85,"y":6.8},{"s":"1995/7/6","x":4.0,"y":7.2},{"s":"1995/7/6","x":4.15,"y":8.5},{"s":"1995/7/6","x":4.3,"y":7.9},{"s":"1995/7/6","x":4.4,"y":9.5},{"s":"1995/7/6","x":4.5,"y":10.6},{"s":"1995/7/6","x":4.6,"y":10.0},{"s":"1995/7/6","x":4.7,"y":11.0},{"s":"1995/7/6","x":4.85,"y":11.5},{"s":"1995/7/6","x":5.0,"y":11.2},{"s":"1995/7/6","x":5.1,"y":12.5},{"s":"1995/7/6","x":5.2,"y":11.8},{"s":"1995/7/6","x":5.35,"y":10.8},{"s":"1995/7/6","x":5.5,"y":10.5},{"s":"1995/7/6","x":5.65,"y":11.0},{"s":"1995/7/6","x":5.8,"y":11.5},{"s":"1995/7/6","x":5.9,"y":11.8},{"s":"1995/7/6","x":6.0,"y":12.2},
{"s":"2001/1/3","x":-6,"y":-15.8},{"s":"2001/1/3","x":-5.92,"y":-14.0},{"s":"2001/1/3","x":-5.8,"y":-14.3},{"s":"2001/1/3","x":-5.7,"y":-14.5},{"s":"2001/1/3","x":-5.58,"y":-14.8},{"s":"2001/1/3","x":-5.47,"y":-14.0},{"s":"2001/1/3","x":-5.35,"y":-13.8},{"s":"2001/1/3","x":-5.15,"y":-14.5},{"s":"2001/1/3","x":-5.05,"y":-13.5},{"s":"2001/1/3","x":-4.9,"y":-12.8},{"s":"2001/1/3","x":-4.8,"y":-13.0},{"s":"2001/1/3","x":-4.7,"y":-12.3},{"s":"2001/1/3","x":-4.55,"y":-11.5},{"s":"2001/1/3","x":-4.4,"y":-11.1},{"s":"2001/1/3","x":-4.29,"y":-9.6},{"s":"2001/1/3","x":-4.14,"y":-8.4},{"s":"2001/1/3","x":-4.06,"y":-8.0},{"s":"2001/1/3","x":-3.91,"y":-7.2},{"s":"2001/1/3","x":-3.8,"y":-7.5},{"s":"2001/1/3","x":-3.73,"y":-8.9},{"s":"2001/1/3","x":-3.65,"y":-9.6},{"s":"2001/1/3","x":-3.55,"y":-8.5},{"s":"2001/1/3","x":-3.46,"y":-7.9},{"s":"2001/1/3","x":-3.35,"y":-7.6},{"s":"2001/1/3","x":-3.23,"y":-10.4},{"s":"2001/1/3","x":-3.15,"y":-10.8},{"s":"2001/1/3","x":-3.08,"y":-9.6},{"s":"2001/1/3","x":-2.95,"y":-9.8},{"s":"2001/1/3","x":-2.85,"y":-8.8},{"s":"2001/1/3","x":-2.7,"y":-8.2},{"s":"2001/1/3","x":-2.6,"y":-8.4},{"s":"2001/1/3","x":-2.52,"y":-9.4},{"s":"2001/1/3","x":-2.4,"y":-9.6},{"s":"2001/1/3","x":-2.3,"y":-9.9},{"s":"2001/1/3","x":-2.2,"y":-8.5},{"s":"2001/1/3","x":-2.1,"y":-7.0},{"s":"2001/1/3","x":-2.0,"y":-6.8},{"s":"2001/1/3","x":-1.85,"y":-5.5},{"s":"2001/1/3","x":-1.7,"y":-5.0},{"s":"2001/1/3","x":-1.55,"y":-5.8},{"s":"2001/1/3","x":-1.4,"y":-4.5},{"s":"2001/1/3","x":-1.25,"y":-3.5},{"s":"2001/1/3","x":-1.1,"y":-4.0},{"s":"2001/1/3","x":-0.95,"y":-2.6},{"s":"2001/1/3","x":-0.8,"y":-3.0},{"s":"2001/1/3","x":-0.65,"y":-1.8},{"s":"2001/1/3","x":-0.5,"y":-2.2},{"s":"2001/1/3","x":-0.35,"y":-0.8},{"s":"2001/1/3","x":-0.2,"y":-1.5},{"s":"2001/1/3","x":0,"y":0},{"s":"2001/1/3","x":0.15,"y":-0.5},{"s":"2001/1/3","x":0.3,"y":-2.0},{"s":"2001/1/3","x":0.4,"y":-1.2},{"s":"2001/1/3","x":0.5,"y":-3.5},{"s":"2001/1/3","x":0.6,"y":-4.2},{"s":"2001/1/3","x":0.7,"y":-2.8},{"s":"2001/1/3","x":0.8,"y":-3.6},{"s":"2001/1/3","x":0.9,"y":-2.2},{"s":"2001/1/3","x":1.0,"y":-3.0},{"s":"2001/1/3","x":1.1,"y":-4.5},{"s":"2001/1/3","x":1.2,"y":-5.5},{"s":"2001/1/3","x":1.3,"y":-5.0},{"s":"2001/1/3","x":1.4,"y":-6.5},{"s":"2001/1/3","x":1.5,"y":-7.5},{"s":"2001/1/3","x":1.6,"y":-6.8},{"s":"2001/1/3","x":1.7,"y":-8.0},{"s":"2001/1/3","x":1.8,"y":-7.6},{"s":"2001/1/3","x":1.86,"y":-8.2},{"s":"2001/1/3","x":2.02,"y":-8.65},{"s":"2001/1/3","x":2.17,"y":-7.2},{"s":"2001/1/3","x":2.24,"y":-8.4},{"s":"2001/1/3","x":2.28,"y":-11.6},{"s":"2001/1/3","x":2.36,"y":-13.3},{"s":"2001/1/3","x":2.47,"y":-14.8},{"s":"2001/1/3","x":2.51,"y":-13.8},{"s":"2001/1/3","x":2.62,"y":-17.0},{"s":"2001/1/3","x":2.7,"y":-15.5},{"s":"2001/1/3","x":2.78,"y":-12.3},{"s":"2001/1/3","x":2.85,"y":-15.0},{"s":"2001/1/3","x":2.93,"y":-14.8},{"s":"2001/1/3","x":3.0,"y":-17.0},{"s":"2001/1/3","x":3.08,"y":-15.3},{"s":"2001/1/3","x":3.16,"y":-16.25},{"s":"2001/1/3","x":3.23,"y":-15.3},{"s":"2001/1/3","x":3.31,"y":-13.3},{"s":"2001/1/3","x":3.42,"y":-11.6},{"s":"2001/1/3","x":3.5,"y":-9.6},{"s":"2001/1/3","x":3.57,"y":-7.2},{"s":"2001/1/3","x":3.65,"y":-10.1},{"s":"2001/1/3","x":3.8,"y":-11.35},{"s":"2001/1/3","x":3.88,"y":-14.8},{"s":"2001/1/3","x":3.99,"y":-14.3},{"s":"2001/1/3","x":4.14,"y":-12.8},{"s":"2001/1/3","x":4.3,"y":-12.6},{"s":"2001/1/3","x":4.37,"y":-11.35},{"s":"2001/1/3","x":4.49,"y":-9.9},{"s":"2001/1/3","x":4.6,"y":-9.9},{"s":"2001/1/3","x":4.75,"y":-10.4},{"s":"2001/1/3","x":4.9,"y":-10.4},{"s":"2001/1/3","x":5.05,"y":-9.9},{"s":"2001/1/3","x":5.2,"y":-8.9},{"s":"2001/1/3","x":5.36,"y":-9.9},{"s":"2001/1/3","x":5.51,"y":-9.2},{"s":"2001/1/3","x":5.66,"y":-9.9},{"s":"2001/1/3","x":5.81,"y":-10.4},{"s":"2001/1/3","x":5.89,"y":-9.4},{"s":"2001/1/3","x":6.0,"y":-8.4},
{"s":"2007/9/18","x":-6,"y":-8.8},{"s":"2007/9/18","x":-5.9,"y":-5.7},{"s":"2007/9/18","x":-5.75,"y":-6.3},{"s":"2007/9/18","x":-5.55,"y":-6.8},{"s":"2007/9/18","x":-5.4,"y":-5.6},{"s":"2007/9/18","x":-5.2,"y":-5.2},{"s":"2007/9/18","x":-5.0,"y":-4.0},{"s":"2007/9/18","x":-4.85,"y":-3.0},{"s":"2007/9/18","x":-4.7,"y":-2.2},{"s":"2007/9/18","x":-4.55,"y":-0.5},{"s":"2007/9/18","x":-4.4,"y":0.0},{"s":"2007/9/18","x":-4.25,"y":0.5},{"s":"2007/9/18","x":-4.08,"y":1.4},{"s":"2007/9/18","x":-3.9,"y":0.8},{"s":"2007/9/18","x":-3.75,"y":0.9},{"s":"2007/9/18","x":-3.6,"y":1.9},{"s":"2007/9/18","x":-3.46,"y":1.15},{"s":"2007/9/18","x":-3.3,"y":0.2},{"s":"2007/9/18","x":-3.15,"y":0.8},{"s":"2007/9/18","x":-3.0,"y":0.3},{"s":"2007/9/18","x":-2.85,"y":1.0},{"s":"2007/9/18","x":-2.75,"y":0.1},{"s":"2007/9/18","x":-2.6,"y":-1.3},{"s":"2007/9/18","x":-2.45,"y":-2.5},{"s":"2007/9/18","x":-2.3,"y":-3.0},{"s":"2007/9/18","x":-2.1,"y":-4.5},{"s":"2007/9/18","x":-1.95,"y":-3.2},{"s":"2007/9/18","x":-1.8,"y":-2.0},{"s":"2007/9/18","x":-1.6,"y":-3.8},{"s":"2007/9/18","x":-1.45,"y":-2.5},{"s":"2007/9/18","x":-1.3,"y":-3.8},{"s":"2007/9/18","x":-1.15,"y":-5.8},{"s":"2007/9/18","x":-1.0,"y":-4.0},{"s":"2007/9/18","x":-0.85,"y":-2.5},{"s":"2007/9/18","x":-0.7,"y":-2.8},{"s":"2007/9/18","x":-0.55,"y":-1.5},{"s":"2007/9/18","x":-0.4,"y":-2.0},{"s":"2007/9/18","x":-0.2,"y":-1.2},{"s":"2007/9/18","x":0,"y":0},{"s":"2007/9/18","x":0.15,"y":-1.0},{"s":"2007/9/18","x":0.3,"y":-0.5},{"s":"2007/9/18","x":0.45,"y":-1.8},{"s":"2007/9/18","x":0.6,"y":-0.8},{"s":"2007/9/18","x":0.75,"y":-1.5},{"s":"2007/9/18","x":0.9,"y":-0.5},{"s":"2007/9/18","x":1.05,"y":-1.2},{"s":"2007/9/18","x":1.2,"y":-0.4},{"s":"2007/9/18","x":1.35,"y":-1.0},{"s":"2007/9/18","x":1.5,"y":-1.8},{"s":"2007/9/18","x":1.65,"y":-1.4},{"s":"2007/9/18","x":1.75,"y":-2.3},{"s":"2007/9/18","x":1.86,"y":-2.0},{"s":"2007/9/18","x":2.0,"y":-3.2},{"s":"2007/9/18","x":2.1,"y":-4.0},{"s":"2007/9/18","x":2.24,"y":-5.0},{"s":"2007/9/18","x":2.32,"y":-6.9},{"s":"2007/9/18","x":2.36,"y":-3.75},{"s":"2007/9/18","x":2.47,"y":-2.5},{"s":"2007/9/18","x":2.62,"y":-2.0},{"s":"2007/9/18","x":2.81,"y":-2.5},{"s":"2007/9/18","x":2.89,"y":-1.5},{"s":"2007/9/18","x":3.05,"y":-1.8},{"s":"2007/9/18","x":3.2,"y":-1.3},{"s":"2007/9/18","x":3.31,"y":-2.0},{"s":"2007/9/18","x":3.46,"y":-3.0},{"s":"2007/9/18","x":3.53,"y":-5.0},{"s":"2007/9/18","x":3.61,"y":-7.2},{"s":"2007/9/18","x":3.76,"y":-6.7},{"s":"2007/9/18","x":3.91,"y":-6.95},{"s":"2007/9/18","x":3.97,"y":-12.5},{"s":"2007/9/18","x":4.14,"y":-13.55},{"s":"2007/9/18","x":4.22,"y":-11.35},{"s":"2007/9/18","x":4.29,"y":-12.8},{"s":"2007/9/18","x":4.48,"y":-8.4},{"s":"2007/9/18","x":4.55,"y":-8.2},{"s":"2007/9/18","x":4.67,"y":-12.6},{"s":"2007/9/18","x":4.79,"y":-12.1},{"s":"2007/9/18","x":4.9,"y":-10.4},{"s":"2007/9/18","x":4.98,"y":-11.35},{"s":"2007/9/18","x":5.17,"y":-11.6},{"s":"2007/9/18","x":5.32,"y":-9.4},{"s":"2007/9/18","x":5.43,"y":-12.6},{"s":"2007/9/18","x":5.56,"y":-12.6},{"s":"2007/9/18","x":5.66,"y":-14.8},{"s":"2007/9/18","x":5.74,"y":-16.25},{"s":"2007/9/18","x":5.77,"y":-13.3},{"s":"2007/9/18","x":5.89,"y":-15.3},{"s":"2007/9/18","x":6.0,"y":-16.1},
{"s":"2019/7/31","x":-6,"y":-11.5},{"s":"2019/7/31","x":-5.92,"y":-9.4},{"s":"2019/7/31","x":-5.8,"y":-9.2},{"s":"2019/7/31","x":-5.7,"y":-8.2},{"s":"2019/7/31","x":-5.6,"y":-9.3},{"s":"2019/7/31","x":-5.47,"y":-7.9},{"s":"2019/7/31","x":-5.35,"y":-6.9},{"s":"2019/7/31","x":-5.2,"y":-6.6},{"s":"2019/7/31","x":-5.05,"y":-6.2},{"s":"2019/7/31","x":-4.9,"y":-6.7},{"s":"2019/7/31","x":-4.82,"y":-6.2},{"s":"2019/7/31","x":-4.71,"y":-7.9},{"s":"2019/7/31","x":-4.6,"y":-7.8},{"s":"2019/7/31","x":-4.52,"y":-6.2},{"s":"2019/7/31","x":-4.37,"y":-5.0},{"s":"2019/7/31","x":-4.29,"y":-3.75},{"s":"2019/7/31","x":-4.21,"y":-6.0},{"s":"2019/7/31","x":-4.1,"y":-5.9},{"s":"2019/7/31","x":-3.99,"y":-4.7},{"s":"2019/7/31","x":-3.87,"y":-3.26},{"s":"2019/7/31","x":-3.75,"y":-2.2},{"s":"2019/7/31","x":-3.6,"y":-1.8},{"s":"2019/7/31","x":-3.45,"y":-2.0},{"s":"2019/7/31","x":-3.3,"y":-2.5},{"s":"2019/7/31","x":-3.17,"y":-1.9},{"s":"2019/7/31","x":-3.07,"y":-1.55},{"s":"2019/7/31","x":-2.95,"y":-1.55},{"s":"2019/7/31","x":-2.8,"y":-1.8},{"s":"2019/7/31","x":-2.68,"y":-1.6},{"s":"2019/7/31","x":-2.6,"y":-2.5},{"s":"2019/7/31","x":-2.5,"y":-5.5},{"s":"2019/7/31","x":-2.42,"y":-3.2},{"s":"2019/7/31","x":-2.3,"y":-3.6},{"s":"2019/7/31","x":-2.16,"y":-5.0},{"s":"2019/7/31","x":-2.0,"y":-6.5},{"s":"2019/7/31","x":-1.85,"y":-7.5},{"s":"2019/7/31","x":-1.72,"y":-9.6},{"s":"2019/7/31","x":-1.6,"y":-9.8},{"s":"2019/7/31","x":-1.48,"y":-7.4},{"s":"2019/7/31","x":-1.35,"y":-5.5},{"s":"2019/7/31","x":-1.25,"y":-4.0},{"s":"2019/7/31","x":-1.1,"y":-3.0},{"s":"2019/7/31","x":-0.95,"y":-2.6},{"s":"2019/7/31","x":-0.8,"y":-1.5},{"s":"2019/7/31","x":-0.65,"y":-1.8},{"s":"2019/7/31","x":-0.5,"y":-0.8},{"s":"2019/7/31","x":-0.35,"y":-1.5},{"s":"2019/7/31","x":-0.2,"y":-0.5},{"s":"2019/7/31","x":0,"y":0},{"s":"2019/7/31","x":0.15,"y":-0.8},{"s":"2019/7/31","x":0.3,"y":-2.0},{"s":"2019/7/31","x":0.45,"y":-1.0},{"s":"2019/7/31","x":0.6,"y":-2.5},{"s":"2019/7/31","x":0.75,"y":-1.5},{"s":"2019/7/31","x":0.9,"y":-2.8},{"s":"2019/7/31","x":1.05,"y":-2.0},{"s":"2019/7/31","x":1.2,"y":-3.0},{"s":"2019/7/31","x":1.35,"y":-1.8},{"s":"2019/7/31","x":1.5,"y":-2.2},{"s":"2019/7/31","x":1.65,"y":-1.0},{"s":"2019/7/31","x":1.8,"y":-2.5},{"s":"2019/7/31","x":1.95,"y":-1.2},{"s":"2019/7/31","x":2.09,"y":-1.8},{"s":"2019/7/31","x":2.2,"y":-3.3},{"s":"2019/7/31","x":2.32,"y":-2.6},{"s":"2019/7/31","x":2.45,"y":-1.5},{"s":"2019/7/31","x":2.6,"y":-0.8},{"s":"2019/7/31","x":2.75,"y":-1.2},{"s":"2019/7/31","x":2.9,"y":0.2},{"s":"2019/7/31","x":3.0,"y":1.9},{"s":"2019/7/31","x":3.19,"y":3.6},{"s":"2019/7/31","x":3.3,"y":3.2},{"s":"2019/7/31","x":3.46,"y":4.1},{"s":"2019/7/31","x":3.6,"y":4.8},{"s":"2019/7/31","x":3.69,"y":5.57},{"s":"2019/7/31","x":3.85,"y":5.3},{"s":"2019/7/31","x":4.0,"y":5.8},{"s":"2019/7/31","x":4.14,"y":5.1},{"s":"2019/7/31","x":4.29,"y":6.8},{"s":"2019/7/31","x":4.45,"y":7.8},{"s":"2019/7/31","x":4.6,"y":7.5},{"s":"2019/7/31","x":4.71,"y":8.5},{"s":"2019/7/31","x":4.85,"y":8.8},{"s":"2019/7/31","x":4.94,"y":9.0},{"s":"2019/7/31","x":5.05,"y":8.7},{"s":"2019/7/31","x":5.17,"y":9.5},{"s":"2019/7/31","x":5.3,"y":9.8},{"s":"2019/7/31","x":5.4,"y":10.2},{"s":"2019/7/31","x":5.5,"y":10.8},{"s":"2019/7/31","x":5.59,"y":11.7},{"s":"2019/7/31","x":5.72,"y":11.3},{"s":"2019/7/31","x":5.85,"y":11.5},{"s":"2019/7/31","x":5.92,"y":10.3},{"s":"2019/7/31","x":6.0,"y":10.3},
{"s":"11次平均","x":-6,"y":-4.0},{"s":"11次平均","x":-5.9,"y":-3.8},{"s":"11次平均","x":-5.8,"y":-3.2},{"s":"11次平均","x":-5.75,"y":-3.4},{"s":"11次平均","x":-5.7,"y":-3.0},{"s":"11次平均","x":-5.62,"y":-3.5},{"s":"11次平均","x":-5.55,"y":-4.3},{"s":"11次平均","x":-5.45,"y":-3.9},{"s":"11次平均","x":-5.35,"y":-3.4},{"s":"11次平均","x":-5.25,"y":-3.6},{"s":"11次平均","x":-5.15,"y":-3.2},{"s":"11次平均","x":-5.05,"y":-3.4},{"s":"11次平均","x":-4.95,"y":-3.0},{"s":"11次平均","x":-4.85,"y":-2.8},{"s":"11次平均","x":-4.75,"y":-3.1},{"s":"11次平均","x":-4.65,"y":-2.6},{"s":"11次平均","x":-4.55,"y":-2.2},{"s":"11次平均","x":-4.45,"y":-2.3},{"s":"11次平均","x":-4.35,"y":-1.8},{"s":"11次平均","x":-4.25,"y":-1.9},{"s":"11次平均","x":-4.15,"y":-1.4},{"s":"11次平均","x":-4.05,"y":-1.3},{"s":"11次平均","x":-3.95,"y":-0.9},{"s":"11次平均","x":-3.85,"y":-0.8},{"s":"11次平均","x":-3.75,"y":-1.1},{"s":"11次平均","x":-3.65,"y":-0.9},{"s":"11次平均","x":-3.55,"y":-1.0},{"s":"11次平均","x":-3.45,"y":-0.9},{"s":"11次平均","x":-3.35,"y":-1.3},{"s":"11次平均","x":-3.25,"y":-1.5},{"s":"11次平均","x":-3.15,"y":-1.2},{"s":"11次平均","x":-3.05,"y":-1.5},{"s":"11次平均","x":-2.95,"y":-1.1},{"s":"11次平均","x":-2.85,"y":-0.9},{"s":"11次平均","x":-2.75,"y":-1.6},{"s":"11次平均","x":-2.7,"y":-2.1},{"s":"11次平均","x":-2.62,"y":-1.7},{"s":"11次平均","x":-2.55,"y":-2.1},{"s":"11次平均","x":-2.45,"y":-1.6},{"s":"11次平均","x":-2.35,"y":-1.9},{"s":"11次平均","x":-2.25,"y":-1.1},{"s":"11次平均","x":-2.15,"y":-0.9},{"s":"11次平均","x":-2.05,"y":-0.4},{"s":"11次平均","x":-1.95,"y":-0.2},{"s":"11次平均","x":-1.85,"y":-0.4},{"s":"11次平均","x":-1.75,"y":0.0},{"s":"11次平均","x":-1.65,"y":-0.2},{"s":"11次平均","x":-1.55,"y":-0.5},{"s":"11次平均","x":-1.45,"y":-0.9},{"s":"11次平均","x":-1.35,"y":-0.5},{"s":"11次平均","x":-1.25,"y":-0.3},{"s":"11次平均","x":-1.15,"y":-0.6},{"s":"11次平均","x":-1.05,"y":-0.2},{"s":"11次平均","x":-0.95,"y":-0.5},{"s":"11次平均","x":-0.85,"y":-0.1},{"s":"11次平均","x":-0.75,"y":0.2},{"s":"11次平均","x":-0.65,"y":-0.4},{"s":"11次平均","x":-0.55,"y":-0.1},{"s":"11次平均","x":-0.45,"y":-0.5},{"s":"11次平均","x":-0.35,"y":0.2},{"s":"11次平均","x":-0.25,"y":-0.2},{"s":"11次平均","x":-0.15,"y":-0.1},{"s":"11次平均","x":-0.05,"y":-0.4},{"s":"11次平均","x":0.05,"y":-0.3},{"s":"11次平均","x":0.15,"y":-0.5},{"s":"11次平均","x":0.25,"y":-0.2},{"s":"11次平均","x":0.35,"y":-0.4},{"s":"11次平均","x":0.45,"y":0.1},{"s":"11次平均","x":0.55,"y":-0.1},{"s":"11次平均","x":0.65,"y":0.4},{"s":"11次平均","x":0.72,"y":0.9},{"s":"11次平均","x":0.8,"y":0.5},{"s":"11次平均","x":0.9,"y":0.3},{"s":"11次平均","x":1.0,"y":0.6},{"s":"11次平均","x":1.1,"y":0.3},{"s":"11次平均","x":1.2,"y":0.4},{"s":"11次平均","x":1.3,"y":0.7},{"s":"11次平均","x":1.4,"y":0.4},{"s":"11次平均","x":1.5,"y":0.1},{"s":"11次平均","x":1.6,"y":-0.6},{"s":"11次平均","x":1.7,"y":-1.1},{"s":"11次平均","x":1.8,"y":-0.8},{"s":"11次平均","x":1.9,"y":-1.3},{"s":"11次平均","x":2.0,"y":-1.0},{"s":"11次平均","x":2.1,"y":-1.4},{"s":"11次平均","x":2.2,"y":-0.9},{"s":"11次平均","x":2.3,"y":-1.2},{"s":"11次平均","x":2.4,"y":-1.0},{"s":"11次平均","x":2.5,"y":-1.4},{"s":"11次平均","x":2.6,"y":-1.1},{"s":"11次平均","x":2.7,"y":-0.9},{"s":"11次平均","x":2.8,"y":-1.2},{"s":"11次平均","x":2.9,"y":-1.0},{"s":"11次平均","x":3.0,"y":-1.4},{"s":"11次平均","x":3.1,"y":-1.6},{"s":"11次平均","x":3.2,"y":-1.3},{"s":"11次平均","x":3.3,"y":-0.8},{"s":"11次平均","x":3.38,"y":0.0},{"s":"11次平均","x":3.45,"y":0.9},{"s":"11次平均","x":3.55,"y":1.1},{"s":"11次平均","x":3.65,"y":1.3},{"s":"11次平均","x":3.75,"y":1.2},{"s":"11次平均","x":3.85,"y":1.5},{"s":"11次平均","x":3.95,"y":1.9},{"s":"11次平均","x":4.05,"y":1.7},{"s":"11次平均","x":4.15,"y":2.1},{"s":"11次平均","x":4.25,"y":1.8},{"s":"11次平均","x":4.35,"y":2.3},{"s":"11次平均","x":4.45,"y":2.2},{"s":"11次平均","x":4.55,"y":2.6},{"s":"11次平均","x":4.62,"y":3.0},{"s":"11次平均","x":4.7,"y":2.1},{"s":"11次平均","x":4.8,"y":2.3},{"s":"11次平均","x":4.9,"y":1.8},{"s":"11次平均","x":5.0,"y":2.2},{"s":"11次平均","x":5.1,"y":2.3},{"s":"11次平均","x":5.2,"y":2.4},{"s":"11次平均","x":5.3,"y":2.7},{"s":"11次平均","x":5.4,"y":2.3},{"s":"11次平均","x":5.5,"y":1.5},{"s":"11次平均","x":5.6,"y":1.8},{"s":"11次平均","x":5.7,"y":1.9},{"s":"11次平均","x":5.8,"y":2.3},{"s":"11次平均","x":5.9,"y":2.6},{"s":"11次平均","x":6.0,"y":2.5}
],
"grid": [{"g":-15},{"g":-10},{"g":-5},{"g":0},{"g":5},{"g":10},{"g":15}]
},
"layer": [
{"data": {"values": [{}]},
 "mark": {"type": "rect", "clip": false, "color": "#E0E0E0"},
 "encoding": {
  "x": {"datum": -6.798, "type": "quantitative",
        "scale": {"domain": [-6, 6], "nice": false, "zero": false},
        "axis": {"values": [-6,-5,-4,-3,-2,-1,0,1,2,3,4,5,6], "labelExpr": "'' + datum.value", "domain": false, "ticks": false, "grid": false, "title": null, "labelFontSize": 18, "labelColor": "#595959", "labelPadding": 22, "labelFlush": false, "zindex": 1}},
  "x2": {"datum": 6.422},
  "y": {"datum": 22.574, "type": "quantitative",
        "scale": {"domain": [-20, 20], "nice": false, "zero": false},
        "axis": {"values": [-20,-15,-10,-5,0,5,10,15,20], "labelExpr": "datum.value < 0 ? '(' + (-datum.value) + ')' : '' + datum.value", "domain": false, "ticks": false, "grid": false, "title": null, "labelFontSize": 18, "labelColor": "#595959", "labelPadding": 20, "labelFlush": false, "zindex": 1}},
  "y2": {"datum": -33.01}
 }},
{"data": {"values": [{}]},
 "mark": {"type": "rect", "clip": false, "color": "#FFFFFF"},
 "encoding": {"x": {"datum": -6, "type": "quantitative"}, "x2": {"datum": 6}, "y": {"datum": 20, "type": "quantitative"}, "y2": {"datum": -20}}},
{"data": {"name": "grid"},
 "mark": {"type": "rule", "color": "#D9D9D9", "strokeWidth": 3},
 "encoding": {"y": {"field": "g", "type": "quantitative"}}},
{"data": {"name": "series"},
 "transform": [{"filter": "datum.s !== '11次平均'"}],
 "mark": {"type": "line", "clip": true, "strokeWidth": 2, "strokeJoin": "round"},
 "encoding": {
  "x": {"field": "x", "type": "quantitative"},
  "y": {"field": "y", "type": "quantitative"},
  "color": {"field": "s", "type": "nominal",
    "scale": {"domain": ["1971/1/8","1971/9/1","1974/7/1","1980/4/1","1981/6/1","1984/10/2","1989/6/5","1995/7/6","2001/1/3","2007/9/18","2019/7/31","11次平均"],
              "range": ["#6B8DDB","#7FA3E3","#9DB8EA","#CFDFF3","#BED4EF","#8F8F8F","#B6C8EF","#C8D8F4","#B4CBEC","#BDBDBD","#7CA5C8","#0D1F5C"]},
    "legend": {"orient": "none", "legendX": -7, "legendY": 643, "columns": 6, "direction": "horizontal", "title": null, "padding": 0,
               "symbolType": "stroke", "symbolSize": 2116, "symbolStrokeWidth": 2,
               "labelFontSize": 18, "labelColor": "#404040", "labelOffset": 12, "labelLimit": 300,
               "columnPadding": 52, "rowPadding": 14, "gridAlign": "all",
               "encode": {"symbols": {"update": {"strokeWidth": {"signal": "datum.value === '11次平均' ? 5 : 2"}}}}}}
 }},
{"data": {"values": [{"z": 0}]},
 "mark": {"type": "rule", "color": "#333333", "strokeWidth": 1.5, "strokeDash": [4, 3]},
 "encoding": {"x": {"field": "z", "type": "quantitative"}}},
{"data": {"name": "series"},
 "transform": [{"filter": "datum.s === '11次平均'"}],
 "mark": {"type": "line", "clip": true, "strokeWidth": 5, "strokeJoin": "round"},
 "encoding": {
  "x": {"field": "x", "type": "quantitative"},
  "y": {"field": "y", "type": "quantitative"},
  "color": {"field": "s", "type": "nominal"}
 }}
]
}
